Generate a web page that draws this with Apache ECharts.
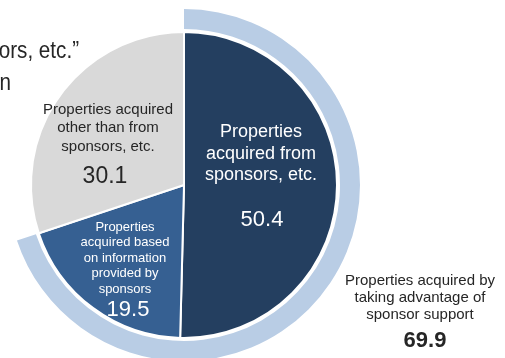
<!DOCTYPE html>
<html>
<head>
<meta charset="utf-8">
<script src="https://cdn.jsdelivr.net/npm/echarts@6/dist/echarts.min.js"></script>
<style>
  html, body { margin: 0; padding: 0; background: #fff; }
  #chart { width: 505px; height: 358px; }
</style>
</head>
<body>
<div id="chart"></div>
<script>
// Acquisition breakdown (%)
const sliceNames = [
  'Properties\nacquired from\nsponsors, etc.',
  'Properties\nacquired based\non information\nprovided by\nsponsors',
  'Properties acquired\nother than from\nsponsors, etc.'
];
const sliceValues = [50.4, 19.5, 30.1];
const sliceColors = ['#243f60', '#366092', '#d9d9d9'];

// Outer ring: share acquired by taking advantage of sponsor support
const ringName = 'Properties acquired by\ntaking advantage of\nsponsor support';
const ringValues = [69.9, 30.1];

const headerLines = ['“Properties acquired from sponsors, etc.”', 'Breakdown by acquisition'];

const cx = 184, cy = 185;
const FONT = '"Liberation Sans", Arial, sans-serif';

const chart = echarts.init(document.getElementById('chart'), null, { renderer: 'canvas' });

function txt(text, x, y, size, color, lineHeight, weight, align, sx) {
  return {
    type: 'text', x: x, y: y, z: 100, silent: true,
    scaleX: sx || 1,
    style: {
      text: text, fill: color,
      font: (weight || 'normal') + ' ' + size + 'px ' + FONT,
      align: align || 'center', verticalAlign: 'middle',
      lineHeight: lineHeight || size
    }
  };
}

chart.setOption({
  animation: false,
  series: [
    {
      type: 'pie',
      center: [cx, cy],
      radius: [0, 153],
      startAngle: 90,
      clockwise: true,
      silent: true,
      label: { show: false },
      labelLine: { show: false },
      itemStyle: { borderColor: '#ffffff', borderWidth: 2 },
      data: sliceValues.map((v, i) => ({ name: sliceNames[i], value: v, itemStyle: { color: sliceColors[i] } }))
    },
    {
      type: 'pie',
      center: [cx, cy],
      radius: [156, 176],
      startAngle: 90,
      clockwise: true,
      silent: true,
      label: { show: false },
      labelLine: { show: false },
      data: [
        { name: ringName, value: ringValues[0], itemStyle: { color: '#b9cde5' } },
        { name: 'rest', value: ringValues[1], itemStyle: { color: 'rgba(0,0,0,0)' } }
      ]
    }
  ],
  graphic: [
    txt(headerLines[0], 79, 51, 24, '#262626', 24, 'normal', 'right', 0.86),
    txt(headerLines[1], 11, 83, 24, '#262626', 24, 'normal', 'right', 0.86),

    txt(sliceNames[0], 261, 154, 18, '#ffffff', 21.5),
    txt(sliceValues[0].toFixed(1), 262, 220, 22, '#ffffff'),

    txt(sliceNames[1], 125, 258, 13, '#ffffff', 15.5),
    txt(sliceValues[1].toFixed(1), 128, 310, 22, '#ffffff'),

    txt(sliceNames[2], 108, 128, 15, '#262626', 18.5),
    txt(sliceValues[2].toFixed(1), 105, 177, 23, '#262626'),

    txt(ringName, 420, 298, 15, '#262626', 17),
    txt(ringValues[0].toFixed(1), 425, 341, 22, '#262626', 22, 'bold')
  ]
});
</script>
</body>
</html>
